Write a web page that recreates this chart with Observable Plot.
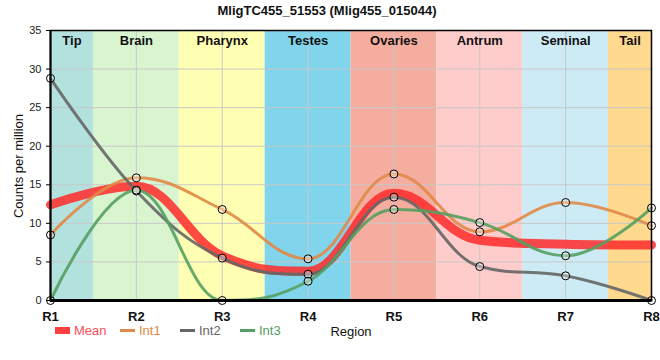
<!DOCTYPE html>
<html><head><meta charset="utf-8">
<script src="https://cdn.jsdelivr.net/npm/d3@7"></script>
<script src="https://cdn.jsdelivr.net/npm/@observablehq/plot@0.6"></script>
<style>body{margin:0;background:#fff;font-family:"Liberation Sans",Arial,sans-serif}</style>
</head><body><div id="chart"></div>
<script>
const title = "MligTC455_51553 (Mlig455_015044)";
const regions = ["R1","R2","R3","R4","R5","R6","R7","R8"];
const tissues = ["Tip","Brain","Pharynx","Testes","Ovaries","Antrum","Seminal","Tail"];
const tissueColors = ["#b3e2de","#d9f5d0","#ffffb3","#80d4ec","#f5ad9f","#ffcccc","#cdebf5","#fed98e"];
const meanValues = [12.4,14.8,5.8,3.8,13.9,7.8,7.3,7.2];
const int1Values = [8.5,15.9,11.8,5.4,16.4,8.9,12.7,9.7];
const int2Values = [28.8,14.2,5.5,3.4,13.4,4.4,3.2,0];
const int3Values = [0,14.3,0,2.5,11.8,10.1,5.8,12.0];
const yTicks = [0,5,10,15,20,25,30,35];
const seriesNames = ["Mean","Int1","Int2","Int3"];
const seriesColors = ["#ff2a2a","#e08a48","#666666","#55a060"];

// smooth spline curve (control points at 0.4 of the neighbour distance, no false extremes)
function curveSmooth(context) {
  let pts;
  return {
    areaStart(){}, areaEnd(){},
    lineStart(){ pts = []; },
    point(x, y){ pts.push([+x, +y]); },
    lineEnd(){
      const n = pts.length; if (!n) return;
      const sm = 1.5, den = sm + 1, L = [], R = [];
      for (let i = 0; i < n; i++) {
        const [x, y] = pts[i];
        if (i > 0 && i < n - 1) {
          const [lx, ly] = pts[i-1], [nx, ny] = pts[i+1];
          let lcx = (sm*x + lx)/den, lcy = (sm*y + ly)/den, rcx = (sm*x + nx)/den, rcy = (sm*y + ny)/den;
          let corr = 0;
          if (rcx !== lcx) corr = ((rcy - lcy)*(rcx - x))/(rcx - lcx) + y - rcy;
          lcy += corr; rcy += corr;
          if (lcy > ly && lcy > y) { lcy = Math.max(ly, y); rcy = 2*y - lcy; }
          else if (lcy < ly && lcy < y) { lcy = Math.min(ly, y); rcy = 2*y - lcy; }
          if (rcy > ny && rcy > y) { rcy = Math.max(ny, y); lcy = 2*y - rcy; }
          else if (rcy < ny && rcy < y) { rcy = Math.min(ny, y); lcy = 2*y - rcy; }
          L[i] = [lcx, lcy]; R[i] = [rcx, rcy];
        } else { L[i] = [x, y]; R[i] = [x, y]; }
      }
      context.moveTo(pts[0][0], pts[0][1]);
      for (let i = 1; i < n; i++) context.bezierCurveTo(R[i-1][0], R[i-1][1], L[i][0], L[i][1], pts[i][0], pts[i][1]);
    }
  };
}

const W = 660, H = 360;
const idx = regions.map((r,i)=>i+1);
const bands = tissues.map((t,i)=>({t, x1:i+0.5, x2:i+1.5, c:tissueColors[i], cx: Math.max(1,i+0.5)/2 + Math.min(8,i+1.5)/2}));
const series = [int1Values,int2Values,int3Values].map((vals,k)=>vals.map((v,i)=>({x:i+1,y:v,s:seriesNames[k+1]}))).flat();
const mean = meanValues.map((v,i)=>({x:i+1,y:v}));
const colorOf = Object.fromEntries(seriesNames.map((s,i)=>[s,seriesColors[i]]));

const chart = Plot.plot({
  width: W, height: H,
  marginLeft: 50, marginRight: 9, marginTop: 30, marginBottom: 60,
  style: {fontFamily: '"Liberation Sans", Arial, sans-serif', background: "#fff"},
  x: {domain:[1,8], ticks: idx, tickFormat: d=>regions[d-1], tickSize:0, label:null},
  y: {domain:[0,35], ticks: yTicks, tickSize:4, label:null},
  marks: [
    Plot.rect(bands, {x1:"x1", x2:"x2", y1:0, y2:35, fill:"c", clip:true}),
    Plot.gridX(idx, {stroke:"#c8c8c8", strokeOpacity:1}),
    Plot.gridY(yTicks, {stroke:"#c8c8c8", strokeOpacity:1}),
    Plot.text(bands, {x:"cx", y:35, text:"t", dy:10, fontWeight:"bold", fontSize:13, fill:"#111"}),
    Plot.line(mean, {x:"x", y:"y", stroke: seriesColors[0], curve: curveSmooth, strokeWidth:9, strokeOpacity:0.85}),
    Plot.line(series, {x:"x", y:"y", z:"s", stroke: d=>colorOf[d.s], curve: curveSmooth, strokeWidth:3, strokeOpacity:0.9}),
    Plot.dot(series, {x:"x", y:"y", r:4, stroke:"#000", strokeWidth:1, fill:"#fff", fillOpacity:0.35}),
    Plot.frame({stroke:"#000", strokeWidth:1.5}),
    Plot.ruleX([1], {stroke:"#000", strokeWidth:2}),
    Plot.ruleY([0], {stroke:"#000", strokeWidth:3}),
    Plot.axisX({ticks: idx, tickFormat: d=>regions[d-1], tickSize:0, fontWeight:"bold", fontSize:13, fill:"#111", dy:2}),
    Plot.axisY({ticks: yTicks, tickSize:4, fontSize:11, fill:"#222"})
  ]
});
const svg = d3.select(chart);
svg.append("text").attr("x",327).attr("y",15).attr("text-anchor","middle")
  .attr("font-weight","bold").attr("font-size",13).attr("fill","#111").text(title);
svg.append("text").attr("transform","translate(23,166) rotate(-90)").attr("text-anchor","middle")
  .attr("font-size",13).attr("fill","#111").text("Counts per million");
svg.append("text").attr("x",351).attr("y",336).attr("text-anchor","middle")
  .attr("font-size",13).attr("fill","#111").text("Region");
const legX = [55,120,180,240];
seriesNames.forEach((s,i)=>{
  if(i===0) svg.append("rect").attr("x",legX[i]).attr("y",327).attr("width",15).attr("height",7).attr("fill",seriesColors[i]).attr("fill-opacity",0.9);
  else svg.append("line").attr("x1",legX[i]).attr("x2",legX[i]+15).attr("y1",330.5).attr("y2",330.5).attr("stroke",seriesColors[i]).attr("stroke-width",3);
  svg.append("text").attr("x",legX[i]+19).attr("y",335).attr("font-size",13).attr("text-anchor","start")
    .attr("fill", i===0 ? "#ff4d5a" : seriesColors[i]).text(s);
});
document.getElementById("chart").appendChild(chart);
</script></body></html>
